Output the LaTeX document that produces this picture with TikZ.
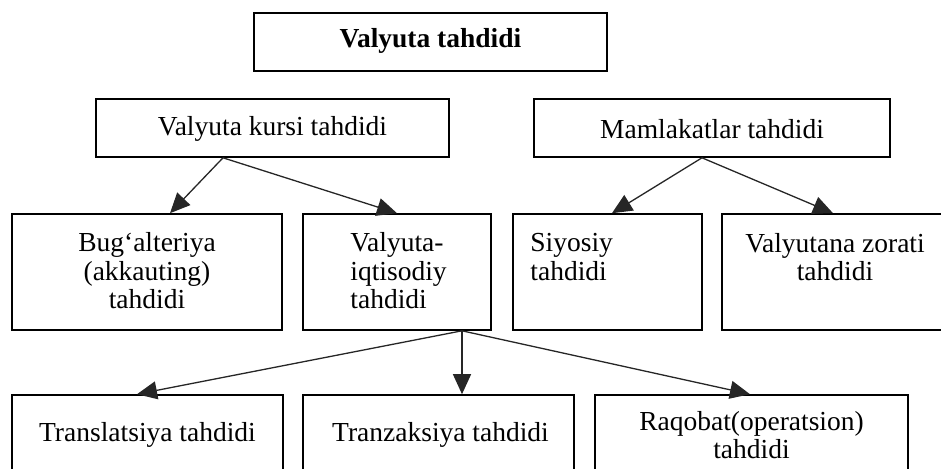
\documentclass[tikz,border=0pt]{standalone}
\usepackage{fontspec}
\setmainfont{Liberation Serif}
\usetikzlibrary{arrows.meta,calc}
\tikzset{
  box/.style={draw=black,line width=1.6pt,rectangle,inner sep=0pt},
  txt/.style={inner sep=0pt,font=\fontsize{27.5}{28.5}\selectfont},
  arr/.style={draw=black!85,line width=1.3pt,-{Triangle[length=20pt,width=18pt]}},
}
\begin{document}
\begin{tikzpicture}[x=1pt,y=-1pt]
\useasboundingbox (0,0) rectangle (941,468);
\clip (0,0) rectangle (941,468);
% boxes
\node[box,minimum width=353,minimum height=58] (top) at (430.5,42) {};
\node[box,minimum width=353,minimum height=58] (vk) at (272.5,128) {};
\node[box,minimum width=356,minimum height=58] (mam) at (712,128) {};
\node[box,minimum width=270,minimum height=116] (bug) at (147,272) {};
\node[box,minimum width=188,minimum height=116] (vi) at (397,272) {};
\node[box,minimum width=189,minimum height=116] (siy) at (607.5,272) {};
\node[box,minimum width=228,minimum height=116] (vz) at (836,272) {};
\node[box,minimum width=271,minimum height=95] (tl) at (147.5,442.5) {};
\node[box,minimum width=271,minimum height=95] (tz) at (438.5,442.5) {};
\node[box,minimum width=313,minimum height=95] (rq) at (751.5,442.5) {};
% texts
\node[txt,font=\fontsize{27.5}{28}\selectfont\bfseries] (ttop) at ([yshift=1]top.center) {Valyuta tahdidi};
\node[txt] (tvk) at ([yshift=-1]vk.center) {Valyuta kursi tahdidi};
\node[txt] (tmam) at ([yshift=-1]mam.center) {Mamlakatlar tahdidi};
\node[txt,align=center] (tbug) at ([yshift=1]bug.center) {Bug`alteriya\\(akkauting)\\tahdidi};
\node[txt,align=left,anchor=west] (tvi) at ([xshift=48,yshift=1]vi.west) {Valyuta-\\iqtisodiy\\tahdidi};
\node[txt,align=left,anchor=west] (tsiy) at ([xshift=18,yshift=15]siy.west) {Siyosiy\\tahdidi};
\node[txt,align=center] (tvz) at ([xshift=-1,yshift=15]vz.center) {Valyutana zorati\\tahdidi};
\node[txt] (ttl) at ([yshift=7.5]tl.center) {Translatsiya tahdidi};
\node[txt] (ttz) at ([xshift=2,yshift=7.5]tz.center) {Tranzaksiya tahdidi};
\node[txt,align=center] (trq) at ([yshift=7.5]rq.center) {Raqobat(operatsion)\\tahdidi};
% connectors
\draw[arr] ([xshift=-49.5]vk.south) -- ([xshift=23]bug.north);
\draw[arr] ([xshift=-49.5]vk.south) -- ([xshift=0]vi.north);
\draw[arr] ([xshift=-10]mam.south) -- ([xshift=4.5]siy.north);
\draw[arr] ([xshift=-10]mam.south) -- ([xshift=-3]vz.north);
\draw[arr] ([xshift=65]vi.south) -- ([xshift=-10.5]tl.north);
\draw[arr] ([xshift=65]vi.south) -- ([xshift=23.5]tz.north);
\draw[arr] ([xshift=65]vi.south) -- ([xshift=-1.5]rq.north);
\end{tikzpicture}
\end{document}
